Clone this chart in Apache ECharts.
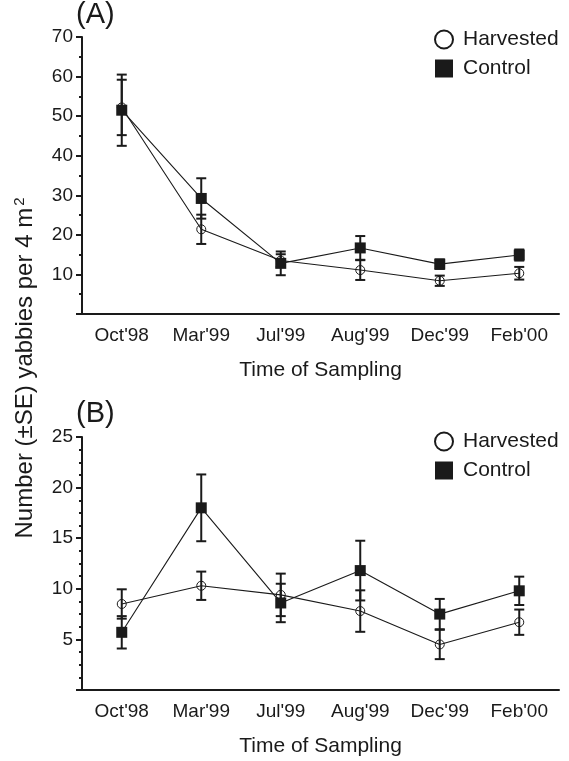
<!DOCTYPE html>
<html>
<head>
<meta charset="utf-8">
<script src="https://cdn.jsdelivr.net/npm/echarts@6/dist/echarts.min.js"></script>
<style>
  html, body { margin: 0; padding: 0; background: #fff; }
  #chart { width: 569px; height: 761px; }
</style>
</head>
<body>
<div id="chart"></div>
<script>
const samplingTimes = ["Oct'98", "Mar'99", "Jul'99", "Aug'99", "Dec'99", "Feb'00"];

// panel A
const harvestedA = [52.2, 21.4, 13.5, 11.1, 8.4, 10.3];
const harvestedSeA = [7.0, 3.7, 1.6, 2.5, 1.3, 1.6];
const controlA = [51.5, 29.2, 12.8, 16.7, 12.6, 14.9];
const controlSeA = [9.0, 5.1, 3.0, 3.0, 1.2, 1.4];

// panel B
const harvestedB = [8.5, 10.3, 9.4, 7.8, 4.5, 6.7];
const harvestedSeB = [1.45, 1.4, 2.1, 2.05, 1.45, 1.25];
const controlB = [5.7, 18.0, 8.6, 11.8, 7.5, 9.8];
const controlSeB = [1.6, 3.3, 1.9, 2.95, 1.5, 1.4];

const FONT = 'Liberation Sans, Arial, sans-serif';
const INK = '#1a1a1a';

const chart = echarts.init(document.getElementById('chart'));

function errorSeries(name, means, ses, idx) {
  return {
    type: 'custom',
    name: name,
    xAxisIndex: idx,
    yAxisIndex: idx,
    z: 5,
    silent: true,
    data: means.map((m, i) => [i, m - ses[i], m + ses[i]]),
    renderItem: (params, api) => {
      const lo = api.coord([api.value(0), api.value(1)]);
      const hi = api.coord([api.value(0), api.value(2)]);
      const w = 5;
      const style = { stroke: INK, lineWidth: 2 };
      return {
        type: 'group',
        children: [
          { type: 'line', shape: { x1: lo[0], y1: lo[1], x2: hi[0], y2: hi[1] }, style },
          { type: 'line', shape: { x1: lo[0] - w, y1: lo[1], x2: lo[0] + w, y2: lo[1] }, style },
          { type: 'line', shape: { x1: hi[0] - w, y1: hi[1], x2: hi[0] + w, y2: hi[1] }, style }
        ]
      };
    }
  };
}

function lineSeries(name, data, idx, symbol) {
  const isCircle = symbol === 'circle';
  return {
    type: 'line',
    name: name,
    xAxisIndex: idx,
    yAxisIndex: idx,
    data: data,
    symbol: symbol,
    symbolSize: isCircle ? 9 : 11,
    z: isCircle ? 4 : 6,
    lineStyle: { color: INK, width: 1.1 },
    itemStyle: isCircle
      ? { color: 'rgba(255,255,255,0)', borderColor: INK, borderWidth: 1 }
      : { color: INK, borderWidth: 0 },
    emphasis: { disabled: true }
  };
}

function xAxisFor(idx) {
  return {
    type: 'category',
    gridIndex: idx,
    data: samplingTimes,
    boundaryGap: true,
    name: 'Time of Sampling',
    nameLocation: 'middle',
    nameGap: 46,
    nameTextStyle: { fontFamily: FONT, fontSize: 21, color: INK },
    axisLine: { lineStyle: { color: INK, width: 2 } },
    axisTick: { alignWithLabel: true, length: 5, lineStyle: { color: INK, width: 2 } },
    axisLabel: { fontFamily: FONT, fontSize: 19, color: INK, margin: 12, interval: 0 },
    splitLine: { show: false }
  };
}

function yAxisFor(idx, max, interval, minorSplit) {
  return {
    type: 'value',
    gridIndex: idx,
    min: 0,
    max: max,
    interval: interval,
    axisLine: { show: true, lineStyle: { color: INK, width: 2 } },
    axisTick: { show: true, length: 6, lineStyle: { color: INK, width: 2 } },
    minorTick: { show: true, splitNumber: minorSplit, length: 3, lineStyle: { color: INK, width: 2 } },
    axisLabel: {
      fontFamily: FONT, fontSize: 19, color: INK, margin: 9,
      formatter: v => (v === 0 ? '' : v)
    },
    splitLine: { show: false },
    minorSplitLine: { show: false }
  };
}

function legendFor(top) {
  return {
    orient: 'vertical',
    left: 429,
    top: top,
    itemWidth: 18,
    itemHeight: 18,
    itemGap: 8,
    selectedMode: false,
    textStyle: { fontFamily: FONT, fontSize: 21, color: INK, padding: [0, 0, 0, 5] },
    data: [
      { name: 'Harvested', icon: 'circle', itemStyle: { color: '#fff', borderColor: INK, borderWidth: 2 } },
      { name: 'Control', icon: 'rect', itemStyle: { color: INK, borderWidth: 0 } }
    ]
  };
}

chart.setOption({
  backgroundColor: '#fff',
  animation: false,
  grid: [
    { left: 82, right: 10, top: 37, height: 277 },
    { left: 82, right: 10, top: 437, height: 253 }
  ],
  legend: [legendFor(24), legendFor(426)],
  xAxis: [xAxisFor(0), xAxisFor(1)],
  yAxis: [yAxisFor(0, 70, 10, 2), yAxisFor(1, 25, 5, 4)],
  graphic: [
    { type: 'text', left: 76, top: 0, style: { text: '(A)', font: '29px ' + FONT, fill: INK } },
    { type: 'text', left: 76, top: 399, style: { text: '(B)', font: '29px ' + FONT, fill: INK } },
    {
      type: 'text',
      x: 25, y: 368,
      rotation: Math.PI / 2,
      style: {
        text: 'Number (±SE) yabbies per 4 m{sup|2}',
        font: '24px ' + FONT,
        fill: INK,
        align: 'center',
        verticalAlign: 'middle',
        rich: { sup: { fontSize: 15, fontFamily: FONT, fill: INK, verticalAlign: 'top', padding: [0, 0, 10, 2] } }
      }
    }
  ],
  series: [
    lineSeries('Harvested', harvestedA, 0, 'circle'),
    lineSeries('Control', controlA, 0, 'rect'),
    errorSeries('Harvested', harvestedA, harvestedSeA, 0),
    errorSeries('Control', controlA, controlSeA, 0),
    lineSeries('Harvested', harvestedB, 1, 'circle'),
    lineSeries('Control', controlB, 1, 'rect'),
    errorSeries('Harvested', harvestedB, harvestedSeB, 1),
    errorSeries('Control', controlB, controlSeB, 1)
  ]
});
</script>
</body>
</html>
